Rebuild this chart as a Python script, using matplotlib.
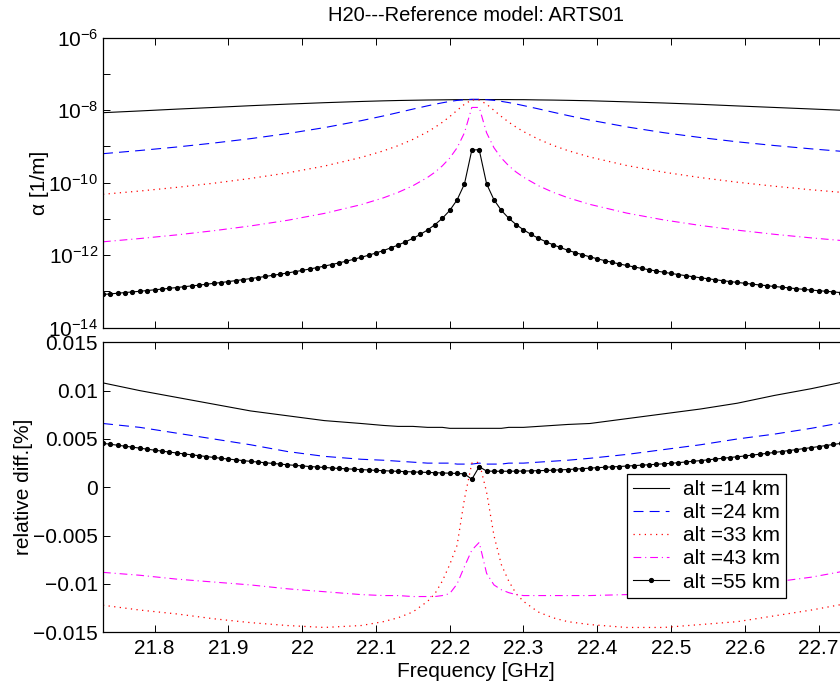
import matplotlib.pyplot as plt
from matplotlib.ticker import FuncFormatter, NullLocator
import numpy as np

plt.rcParams['font.family'] = ['Liberation Sans', 'DejaVu Sans']
plt.rcParams['mathtext.fontset'] = 'custom'
plt.rcParams['mathtext.rm'] = 'Liberation Sans'
plt.rcParams['mathtext.it'] = 'Liberation Sans:italic'

# ---------------------------------------------------------------------------
# data
# ---------------------------------------------------------------------------
# coarse grid used for the four plain lines
freq_c = [21.73, 21.78, 21.83, 21.88, 21.93, 21.98, 22.03, 22.08, 22.11, 22.13,
          22.15, 22.17, 22.18, 22.19, 22.20, 22.21, 22.22, 22.23,
          22.24, 22.25, 22.26, 22.27, 22.28, 22.29, 22.30, 22.32, 22.34, 22.36,
          22.39, 22.44, 22.49, 22.54, 22.59, 22.64, 22.69, 22.74]

alpha_14 = [8.53e-9, 9.53e-9, 1.07e-8, 1.19e-8, 1.33e-8, 1.47e-8, 1.61e-8, 1.74e-8, 1.81e-8, 1.85e-8,
            1.88e-8, 1.91e-8, 1.92e-8, 1.93e-8, 1.94e-8, 1.95e-8, 1.95e-8, 1.95e-8,
            1.95e-8, 1.96e-8, 1.96e-8, 1.96e-8, 1.96e-8, 1.95e-8, 1.95e-8, 1.92e-8, 1.90e-8, 1.87e-8,
            1.82e-8, 1.70e-8, 1.58e-8, 1.45e-8, 1.31e-8, 1.19e-8, 1.08e-8, 9.8e-9]
alpha_24 = [6.31e-10, 7.73e-10, 9.64e-10, 1.24e-9, 1.64e-9, 2.26e-9, 3.30e-9, 5.14e-9, 6.93e-9, 8.59e-9,
            1.07e-8, 1.32e-8, 1.46e-8, 1.60e-8, 1.74e-8, 1.86e-8, 1.94e-8, 2.0e-8,
            2.0e-8, 1.95e-8, 1.87e-8, 1.75e-8, 1.62e-8, 1.48e-8, 1.34e-8, 1.09e-8, 8.80e-9, 7.14e-9,
            5.33e-9, 3.46e-9, 2.40e-9, 1.76e-9, 1.34e-9, 1.06e-9, 8.58e-10, 7.09e-10]
alpha_33 = [4.79e-11, 5.89e-11, 7.43e-11, 9.66e-11, 1.31e-10, 1.86e-10, 2.87e-10, 4.97e-10, 7.53e-10, 1.05e-9,
            1.56e-9, 2.53e-9, 3.37e-9, 4.63e-9, 6.65e-9, 9.89e-9, 1.46e-8, 1.92e-8,
            1.92e-8, 1.46e-8, 9.9e-9, 6.7e-9, 4.68e-9, 3.41e-9, 2.57e-9, 1.59e-9, 1.07e-9, 7.70e-10,
            5.10e-10, 2.97e-10, 1.95e-10, 1.38e-10, 1.03e-10, 7.99e-11, 6.37e-11, 5.23e-11]
alpha_43 = [2.34e-12, 2.88e-12, 3.63e-12, 4.73e-12, 6.41e-12, 9.16e-12, 1.42e-11, 2.48e-11, 3.81e-11, 5.39e-11,
            8.22e-11, 1.40e-10, 1.95e-10, 2.91e-10, 4.77e-10, 9.17e-10, 2.38e-9, 1.19e-8,
            1.19e-8, 2.38e-9, 9.2e-10, 4.8e-10, 2.93e-10, 1.97e-10, 1.42e-10, 8.3e-11, 5.45e-11, 3.86e-11,
            2.52e-11, 1.45e-11, 9.4e-12, 6.6e-12, 4.9e-12, 3.77e-12, 3.0e-12, 2.45e-12]

diff_14 = [0.0108, 0.0100, 0.0093, 0.0086, 0.0079, 0.0074, 0.0069, 0.0066, 0.0064, 0.0063,
           0.0063, 0.0062, 0.0062, 0.0062, 0.0061, 0.0061, 0.0061, 0.0061,
           0.0061, 0.0061, 0.0061, 0.0061, 0.0062, 0.0062, 0.0062, 0.0063, 0.0064, 0.0065,
           0.0066, 0.0071, 0.0076, 0.0081, 0.0087, 0.0095, 0.0102, 0.0110]
diff_24 = [0.0066, 0.0062, 0.0056, 0.0050, 0.0044, 0.0037, 0.0032, 0.0029, 0.0028, 0.0027,
           0.0026, 0.0025, 0.0025, 0.0025, 0.0025, 0.0024, 0.0024, 0.0024,
           0.0025, 0.0024, 0.0024, 0.0024, 0.0025, 0.0025, 0.0025, 0.0026, 0.0027, 0.0028,
           0.0030, 0.0034, 0.0039, 0.0044, 0.0050, 0.0055, 0.0061, 0.0068]
diff_33 = [-0.0122, -0.0127, -0.0131, -0.0136, -0.0140, -0.0143, -0.0145, -0.0143, -0.0139, -0.0135,
           -0.0129, -0.0118, -0.0110, -0.0097, -0.0080, -0.0060, -0.0012, 0.0025,
           0.0026, -0.0005, -0.0050, -0.0080, -0.0097, -0.0110, -0.0118, -0.0129, -0.0135, -0.0139,
           -0.0142, -0.0145, -0.0145, -0.0142, -0.0139, -0.0133, -0.0127, -0.0120]
diff_43 = [-0.0088, -0.0091, -0.0095, -0.0098, -0.0101, -0.0105, -0.0108, -0.0111, -0.0112, -0.0112,
           -0.0113, -0.0113, -0.0113, -0.0112, -0.0110, -0.0100, -0.0082, -0.0065,
           -0.0057, -0.0089, -0.0101, -0.0106, -0.0109, -0.0111, -0.0112, -0.0112, -0.0112, -0.0112,
           -0.0112, -0.0111, -0.0109, -0.0106, -0.0103, -0.0098, -0.0093, -0.0086]

# 55 km is sampled every 10 MHz (the markers)
freq_55 = [21.73, 21.74, 21.75, 21.76, 21.77, 21.78, 21.79, 21.80, 21.81, 21.82,
           21.83, 21.84, 21.85, 21.86, 21.87, 21.88, 21.89, 21.90, 21.91, 21.92,
           21.93, 21.94, 21.95, 21.96, 21.97, 21.98, 21.99, 22.00, 22.01, 22.02,
           22.03, 22.04, 22.05, 22.06, 22.07, 22.08, 22.09, 22.10, 22.11, 22.12,
           22.13, 22.14, 22.15, 22.16, 22.17, 22.18, 22.19, 22.20, 22.21, 22.22,
           22.23, 22.24, 22.25, 22.26, 22.27, 22.28, 22.29, 22.30, 22.31, 22.32,
           22.33, 22.34, 22.35, 22.36, 22.37, 22.38, 22.39, 22.40, 22.41, 22.42,
           22.43, 22.44, 22.45, 22.46, 22.47, 22.48, 22.49, 22.50, 22.51, 22.52,
           22.53, 22.54, 22.55, 22.56, 22.57, 22.58, 22.59, 22.60, 22.61, 22.62,
           22.63, 22.64, 22.65, 22.66, 22.67, 22.68, 22.69, 22.70, 22.71, 22.72,
           22.73, 22.74]
alpha_55 = [8.24e-14, 8.57e-14, 8.93e-14, 9.31e-14, 9.71e-14, 1.01e-13, 1.06e-13, 1.11e-13, 1.16e-13, 1.22e-13,
            1.28e-13, 1.35e-13, 1.42e-13, 1.49e-13, 1.58e-13, 1.67e-13, 1.76e-13, 1.87e-13, 1.99e-13, 2.12e-13,
            2.26e-13, 2.41e-13, 2.59e-13, 2.78e-13, 2.99e-13, 3.23e-13, 3.50e-13, 3.80e-13, 4.15e-13, 4.54e-13,
            5.00e-13, 5.52e-13, 6.14e-13, 6.86e-13, 7.71e-13, 8.74e-13, 9.99e-13, 1.15e-12, 1.34e-12, 1.59e-12,
            1.90e-12, 2.33e-12, 2.91e-12, 3.73e-12, 4.97e-12, 6.94e-12, 1.04e-11, 1.71e-11, 3.35e-11, 9.23e-11,
            8.0e-10, 8.1e-10, 9.3e-11, 3.37e-11, 1.72e-11, 1.05e-11, 7.0e-12, 5.02e-12, 3.77e-12, 2.95e-12,
            2.37e-12, 1.94e-12, 1.63e-12, 1.37e-12, 1.18e-12, 1.03e-12, 9.0e-13, 7.96e-13, 7.09e-13, 6.36e-13,
            5.73e-13, 5.2e-13, 4.73e-13, 4.33e-13, 3.97e-13, 3.66e-13, 3.39e-13, 3.14e-13, 2.92e-13, 2.72e-13,
            2.54e-13, 2.38e-13, 2.24e-13, 2.10e-13, 1.98e-13, 1.87e-13, 1.77e-13, 1.68e-13, 1.59e-13, 1.51e-13,
            1.44e-13, 1.37e-13, 1.31e-13, 1.25e-13, 1.19e-13, 1.14e-13, 1.09e-13, 1.05e-13, 1.01e-13, 9.7e-14,
            9.3e-14, 8.95e-14]
diff_55 = [0.00455, 0.00445, 0.00435, 0.00425, 0.00415, 0.00405, 0.00394, 0.00384, 0.00374, 0.00364,
           0.00355, 0.00345, 0.00336, 0.00327, 0.00318, 0.00309, 0.00300, 0.00292, 0.00284, 0.00276,
           0.00268, 0.00261, 0.00254, 0.00247, 0.00240, 0.00233, 0.00227, 0.00221, 0.00215, 0.00210,
           0.00205, 0.00200, 0.00195, 0.00191, 0.00187, 0.00183, 0.00179, 0.00175, 0.00172, 0.00168,
           0.00165, 0.00162, 0.00159, 0.00156, 0.00154, 0.00151, 0.00148, 0.00146, 0.00143, 0.00139,
           0.00083, 0.00213, 0.00168, 0.00166, 0.00166, 0.00166, 0.00167, 0.00168, 0.00170, 0.00172,
           0.00174, 0.00177, 0.00180, 0.00184, 0.00188, 0.00193, 0.00198, 0.00203, 0.00207, 0.00211,
           0.00215, 0.00220, 0.00224, 0.00229, 0.00233, 0.00238, 0.00243, 0.00248, 0.00255, 0.00262,
           0.00269, 0.00276, 0.00284, 0.00292, 0.00300, 0.00308, 0.00316, 0.00324, 0.00333, 0.00342,
           0.00351, 0.00360, 0.00370, 0.00380, 0.00390, 0.00400, 0.00410, 0.00421, 0.00432, 0.00443,
           0.00454, 0.00465]

labels = ['alt =14 km', 'alt =24 km', 'alt =33 km', 'alt =43 km', 'alt =55 km']

x_ticks = [21.8, 21.9, 22.0, 22.1, 22.2, 22.3, 22.4, 22.5, 22.6, 22.7]
x_ticklabels = ['21.8', '21.9', '22', '22.1', '22.2', '22.3', '22.4', '22.5', '22.6', '22.7']
alpha_ticks = [1e-14, 1e-13, 1e-12, 1e-11, 1e-10, 1e-9, 1e-8, 1e-7, 1e-6]
diff_ticks = [-0.015, -0.01, -0.005, 0, 0.005, 0.01, 0.015]
diff_ticklabels = ['\u22120.015', '\u22120.01', '\u22120.005', '0', '0.005', '0.01', '0.015']

FS = 15

# ---------------------------------------------------------------------------
fig = plt.figure(figsize=(8.4, 6.89), dpi=100)
ax1 = fig.add_axes([0.1226, 0.5244, 0.887, 0.4209])
ax2 = fig.add_axes([0.1226, 0.0823, 0.887, 0.4209])

styles = [
    dict(color='black', linestyle='-', linewidth=0.8),
    dict(color='blue', linestyle=(0, (9, 5.5)), linewidth=0.8),
    dict(color='red', linestyle=(0, (1, 3.5)), linewidth=0.9),
    dict(color='magenta', linestyle=(0, (7, 3.5, 1, 3.5)), linewidth=0.8),
]
style_55 = dict(color='black', linestyle='-', linewidth=0.8, marker='.', markersize=5.5)

# --- top: absorption ---
for vals, st in zip([alpha_14, alpha_24, alpha_33, alpha_43], styles):
    ax1.plot(freq_c, vals, **st)
ax1.plot(freq_55, alpha_55, **style_55)

ax1.set_yscale('log')
ax1.set_ylim(1e-14, 1e-6)
ax1.set_xlim(21.73, 22.74)
ax1.set_yticks(alpha_ticks)
ax1.yaxis.set_minor_locator(NullLocator())


def even_decades(v, pos):
    e = int(round(np.log10(v)))
    return r'$\mathregular{10^{%d}}$' % e if e % 2 == 0 else ''


ax1.yaxis.set_major_formatter(FuncFormatter(even_decades))
ax1.set_xticks(x_ticks)
ax1.tick_params(labelbottom=False)
ax1.set_ylabel('\u03b1 [1/m]', fontsize=FS)
ax1.yaxis.set_label_coords(-0.072, 0.5)
ax1.set_title('H20---Reference model: ARTS01', fontsize=14.5, pad=12)

# --- bottom: relative difference ---
for vals, st, lab in zip([diff_14, diff_24, diff_33, diff_43], styles, labels[:4]):
    ax2.plot(freq_c, vals, label=lab, **st)
ax2.plot(freq_55, diff_55, label=labels[4], **style_55)

ax2.set_xlim(21.73, 22.74)
ax2.set_ylim(-0.015, 0.015)
ax2.set_yticks(diff_ticks)
ax2.set_yticklabels(diff_ticklabels)
ax2.set_xticks(x_ticks)
ax2.set_xticklabels(x_ticklabels)
ax2.set_xlabel('Frequency [GHz]', fontsize=FS, labelpad=3)
ax2.set_ylabel('relative diff.[%]', fontsize=FS)
ax2.yaxis.set_label_coords(-0.094, 0.5)

leg = ax2.legend(loc='lower left', bbox_to_anchor=(0.703, 0.119), fontsize=FS,
                 frameon=True, fancybox=False, framealpha=1, edgecolor='black',
                 handlelength=1.75, handletextpad=0.65, borderpad=0.3,
                 labelspacing=0.2, borderaxespad=0)
leg.get_frame().set_linewidth(0.9)

for ax in (ax1, ax2):
    ax.tick_params(which='both', direction='in', top=True, right=True,
                   length=5, width=0.7, labelsize=FS)
    ax.tick_params(axis='x', pad=5)
    for sp in ax.spines.values():
        sp.set_linewidth(0.9)

fig.savefig('out.png', dpi=100)
